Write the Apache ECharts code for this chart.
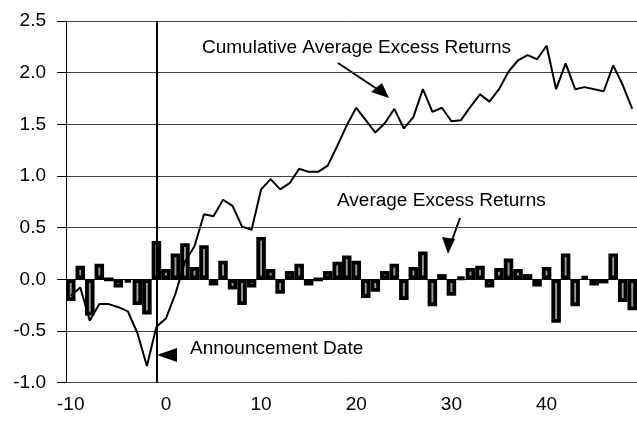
<!DOCTYPE html>
<html>
<head>
<meta charset="utf-8">
<script src="https://cdn.jsdelivr.net/npm/echarts@6/dist/echarts.min.js"></script>
<style>
  html, body { margin: 0; padding: 0; background: #fff; }
  #chart { width: 637px; height: 425px; }
</style>
</head>
<body>
<div id="chart"></div>
<script>
// event days relative to the announcement
const days = [-10, -9, -8, -7, -6, -5, -4, -3, -2, -1,
  0, 1, 2, 3, 4, 5, 6, 7, 8, 9,
  10, 11, 12, 13, 14, 15, 16, 17, 18, 19,
  20, 21, 22, 23, 24, 25, 26, 27, 28, 29,
  30, 31, 32, 33, 34, 35, 36, 37, 38, 39,
  40, 41, 42, 43, 44, 45, 46, 47, 48, 49];

// average excess returns (bars)
const averageExcess = [-0.21, 0.13, -0.35, 0.15, 0, -0.08, -0.03, -0.25, -0.34, 0.37,
  0.10, 0.25, 0.35, 0.12, 0.33, -0.06, 0.18, -0.10, -0.25, -0.08,
  0.41, 0.10, -0.14, 0.08, 0.15, -0.06, 0, 0.08, 0.17, 0.23,
  0.18, -0.18, -0.12, 0.08, 0.15, -0.20, 0.12, 0.27, -0.26, 0.05,
  -0.16, 0.02, 0.11, 0.13, -0.08, 0.11, 0.20, 0.10, 0.05, -0.07,
  0.12, -0.42, 0.25, -0.26, 0.03, -0.06, -0.04, 0.25, -0.22, -0.30];

// cumulative average excess returns (line)
const cumulativeExcess = [-0.16, -0.08, -0.40, -0.24, -0.24, -0.27, -0.31, -0.52, -0.84, -0.46,
  -0.38, -0.14, 0.17, 0.32, 0.63, 0.61, 0.77, 0.71, 0.51, 0.48,
  0.87, 0.97, 0.87, 0.93, 1.07, 1.04, 1.04, 1.10, 1.29, 1.49,
  1.66, 1.54, 1.42, 1.51, 1.65, 1.46, 1.57, 1.84, 1.62, 1.66,
  1.53, 1.54, 1.67, 1.79, 1.72, 1.84, 2.01, 2.12, 2.17, 2.13,
  2.26, 1.84, 2.09, 1.84, 1.86, 1.84, 1.82, 2.07, 1.88, 1.65];

const announcementDay = -1;

const font = '"Liberation Sans", Arial, sans-serif';

const chart = echarts.init(document.getElementById('chart'));

const option = {
  animation: false,
  textStyle: { fontFamily: font },
  grid: { left: 66, top: 21, right: -3, bottom: 42.4 },
  xAxis: {
    type: 'category',
    data: days.map(String),
    boundaryGap: true,
    axisLine: { lineStyle: { color: '#000', width: 1 } },
    axisTick: { show: false },
    axisLabel: { interval: 9, color: '#000', fontSize: 19, margin: 13, fontFamily: font },
    splitLine: { show: false }
  },
  yAxis: {
    type: 'value',
    min: -1,
    max: 2.5,
    interval: 0.5,
    axisLine: { show: true, lineStyle: { color: '#000', width: 1 } },
    axisTick: { show: true, length: 9, lineStyle: { color: '#000' } },
    axisLabel: {
      color: '#000', fontSize: 19, margin: 20, fontFamily: font,
      formatter: v => v.toFixed(1)
    },
    splitLine: { lineStyle: { color: '#444', width: 1 } }
  },
  series: [
    {
      name: 'Average Excess Returns',
      type: 'bar',
      data: averageExcess,
      barWidth: '100%',
      itemStyle: { color: '#999', borderColor: '#000', borderWidth: 3.8 },
      z: 2
    },
    {
      name: 'Cumulative Average Excess Returns',
      type: 'line',
      data: cumulativeExcess,
      symbol: 'none',
      lineStyle: { color: '#000', width: 2 },
      z: 3,
      markLine: {
        silent: true,
        symbol: 'none',
        label: { show: false },
        lineStyle: { color: '#000', width: 2, type: 'solid' },
        data: [{ xAxis: days.indexOf(announcementDay) }]
      }
    }
  ],
  graphic: [
    // labels
    {
      type: 'text', left: 202, top: 38,
      style: { text: 'Cumulative Average Excess Returns', font: '19px ' + font, fill: '#000' }
    },
    {
      type: 'text', left: 337, top: 191,
      style: { text: 'Average Excess Returns', font: '19px ' + font, fill: '#000' }
    },
    {
      type: 'text', left: 190, top: 339,
      style: { text: 'Announcement Date', font: '19px ' + font, fill: '#000' }
    },
    // arrows
    {
      type: 'line',
      shape: { x1: 338, y1: 63, x2: 380, y2: 91 },
      style: { stroke: '#000', lineWidth: 2 }
    },
    {
      type: 'polygon',
      shape: { points: [[389, 98], [371, 92], [382, 83]] },
      style: { fill: '#000' }
    },
    {
      type: 'line',
      shape: { x1: 460, y1: 218, x2: 451, y2: 243 },
      style: { stroke: '#000', lineWidth: 2 }
    },
    {
      type: 'polygon',
      shape: { points: [[448, 254], [442, 237], [455, 239]] },
      style: { fill: '#000' }
    },
    {
      type: 'polygon',
      shape: { points: [[157, 355], [177, 348], [177, 362]] },
      style: { fill: '#000' }
    }
  ]
};

chart.setOption(option);
</script>
</body>
</html>
